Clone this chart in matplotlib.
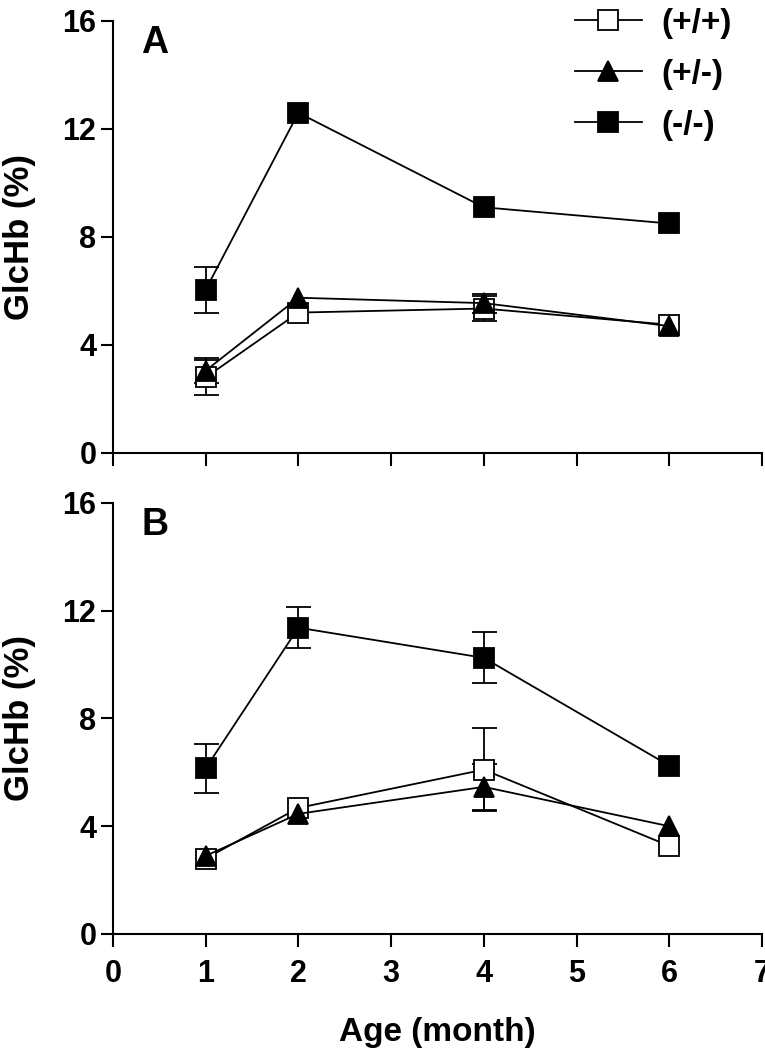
"""GlcHb (%) by age for the three genotypes, panels A and B."""

import matplotlib
matplotlib.use("Agg")
import matplotlib.pyplot as plt
from matplotlib.lines import Line2D

plt.rcParams["font.family"] = ["Liberation Sans", "DejaVu Sans"]
plt.rcParams["font.weight"] = "bold"

nan = float("nan")

age = [1, 2, 4, 6]
genotypes = ["(+/+)", "(+/-)", "(-/-)"]

# panel A  (nan = error bar hidden behind the marker)
a_wt = [2.8, 5.2, 5.35, 4.75]
a_wt_err = [0.65, nan, 0.45, nan]
a_het = [3.05, 5.75, 5.55, 4.7]
a_het_err = [0.45, nan, 0.35, nan]
a_ko = [6.05, 12.6, 9.1, 8.5]
a_ko_err = [0.85, nan, nan, nan]

# panel B
b_wt = [2.8, 4.68, 6.1, 3.27]
b_wt_err = [nan, nan, 1.55, nan]
b_het = [2.9, 4.46, 5.46, 4.0]
b_het_err = [nan, nan, 0.85, nan]
b_ko = [6.15, 11.37, 10.25, 6.25]
b_ko_err = [0.9, 0.75, 0.95, nan]

styles = [
    dict(marker="s", markerfacecolor="white", markersize=15),
    dict(marker="^", markerfacecolor="black", markersize=15),
    dict(marker="s", markerfacecolor="black", markersize=15),
]


def draw_panel(ax, series, letter):
    # plot order: +/+ first, then +/- on top, then -/-
    for (vals, errs), st in zip(series, styles):
        ax.errorbar(age, vals, yerr=errs, color="black", linewidth=1.3,
                    elinewidth=1.3, capsize=9, capthick=1.3,
                    markeredgecolor="black", markeredgewidth=1.3,
                    clip_on=False, zorder=3, **st)
    ax.set_xlim(0, 7)
    ax.set_ylim(0, 16)
    ax.set_xticks(range(0, 8))
    ax.set_yticks([0, 4, 8, 12, 16])
    ax.spines["top"].set_visible(False)
    ax.spines["right"].set_visible(False)
    for s in ("left", "bottom"):
        ax.spines[s].set_linewidth(1.5)
    ax.tick_params(direction="out", length=9, width=1.5, labelsize=22)
    ax.tick_params(axis="x", pad=9)
    ax.tick_params(axis="y", pad=3)
    ax.set_ylabel("GlcHb (%)", fontsize=25, fontweight="bold")
    # ylabel anchor is the right side of the rotated text
    ax.yaxis.set_label_coords(-0.118, 0.5)
    ax.text(0.45, 15.2, letter, fontsize=27, fontweight="bold",
            ha="center", va="center")


fig = plt.figure(figsize=(7.65, 10.5), dpi=100)
ax_a = fig.add_axes([0.1477, 0.5686, 0.8483, 0.4114])
ax_b = fig.add_axes([0.1477, 0.1105, 0.8483, 0.4105])

draw_panel(ax_a, [(a_wt, a_wt_err), (a_het, a_het_err), (a_ko, a_ko_err)], "A")
draw_panel(ax_b, [(b_wt, b_wt_err), (b_het, b_het_err), (b_ko, b_ko_err)], "B")

ax_a.tick_params(axis="x", labelbottom=False)
ax_b.set_xlabel("Age (month)", fontsize=24, fontweight="bold", labelpad=20)

handles = [Line2D([], [], color="black", linewidth=1.3, markeredgecolor="black",
                  markeredgewidth=1.3, **st) for st in styles]
ax_a.legend(handles, genotypes, loc="upper right", bbox_to_anchor=(1.0, 1.10),
            frameon=False, fontsize=24, handlelength=2.0,
            labelspacing=0.6, handletextpad=0.6)

fig.savefig("out.png", dpi=100)
